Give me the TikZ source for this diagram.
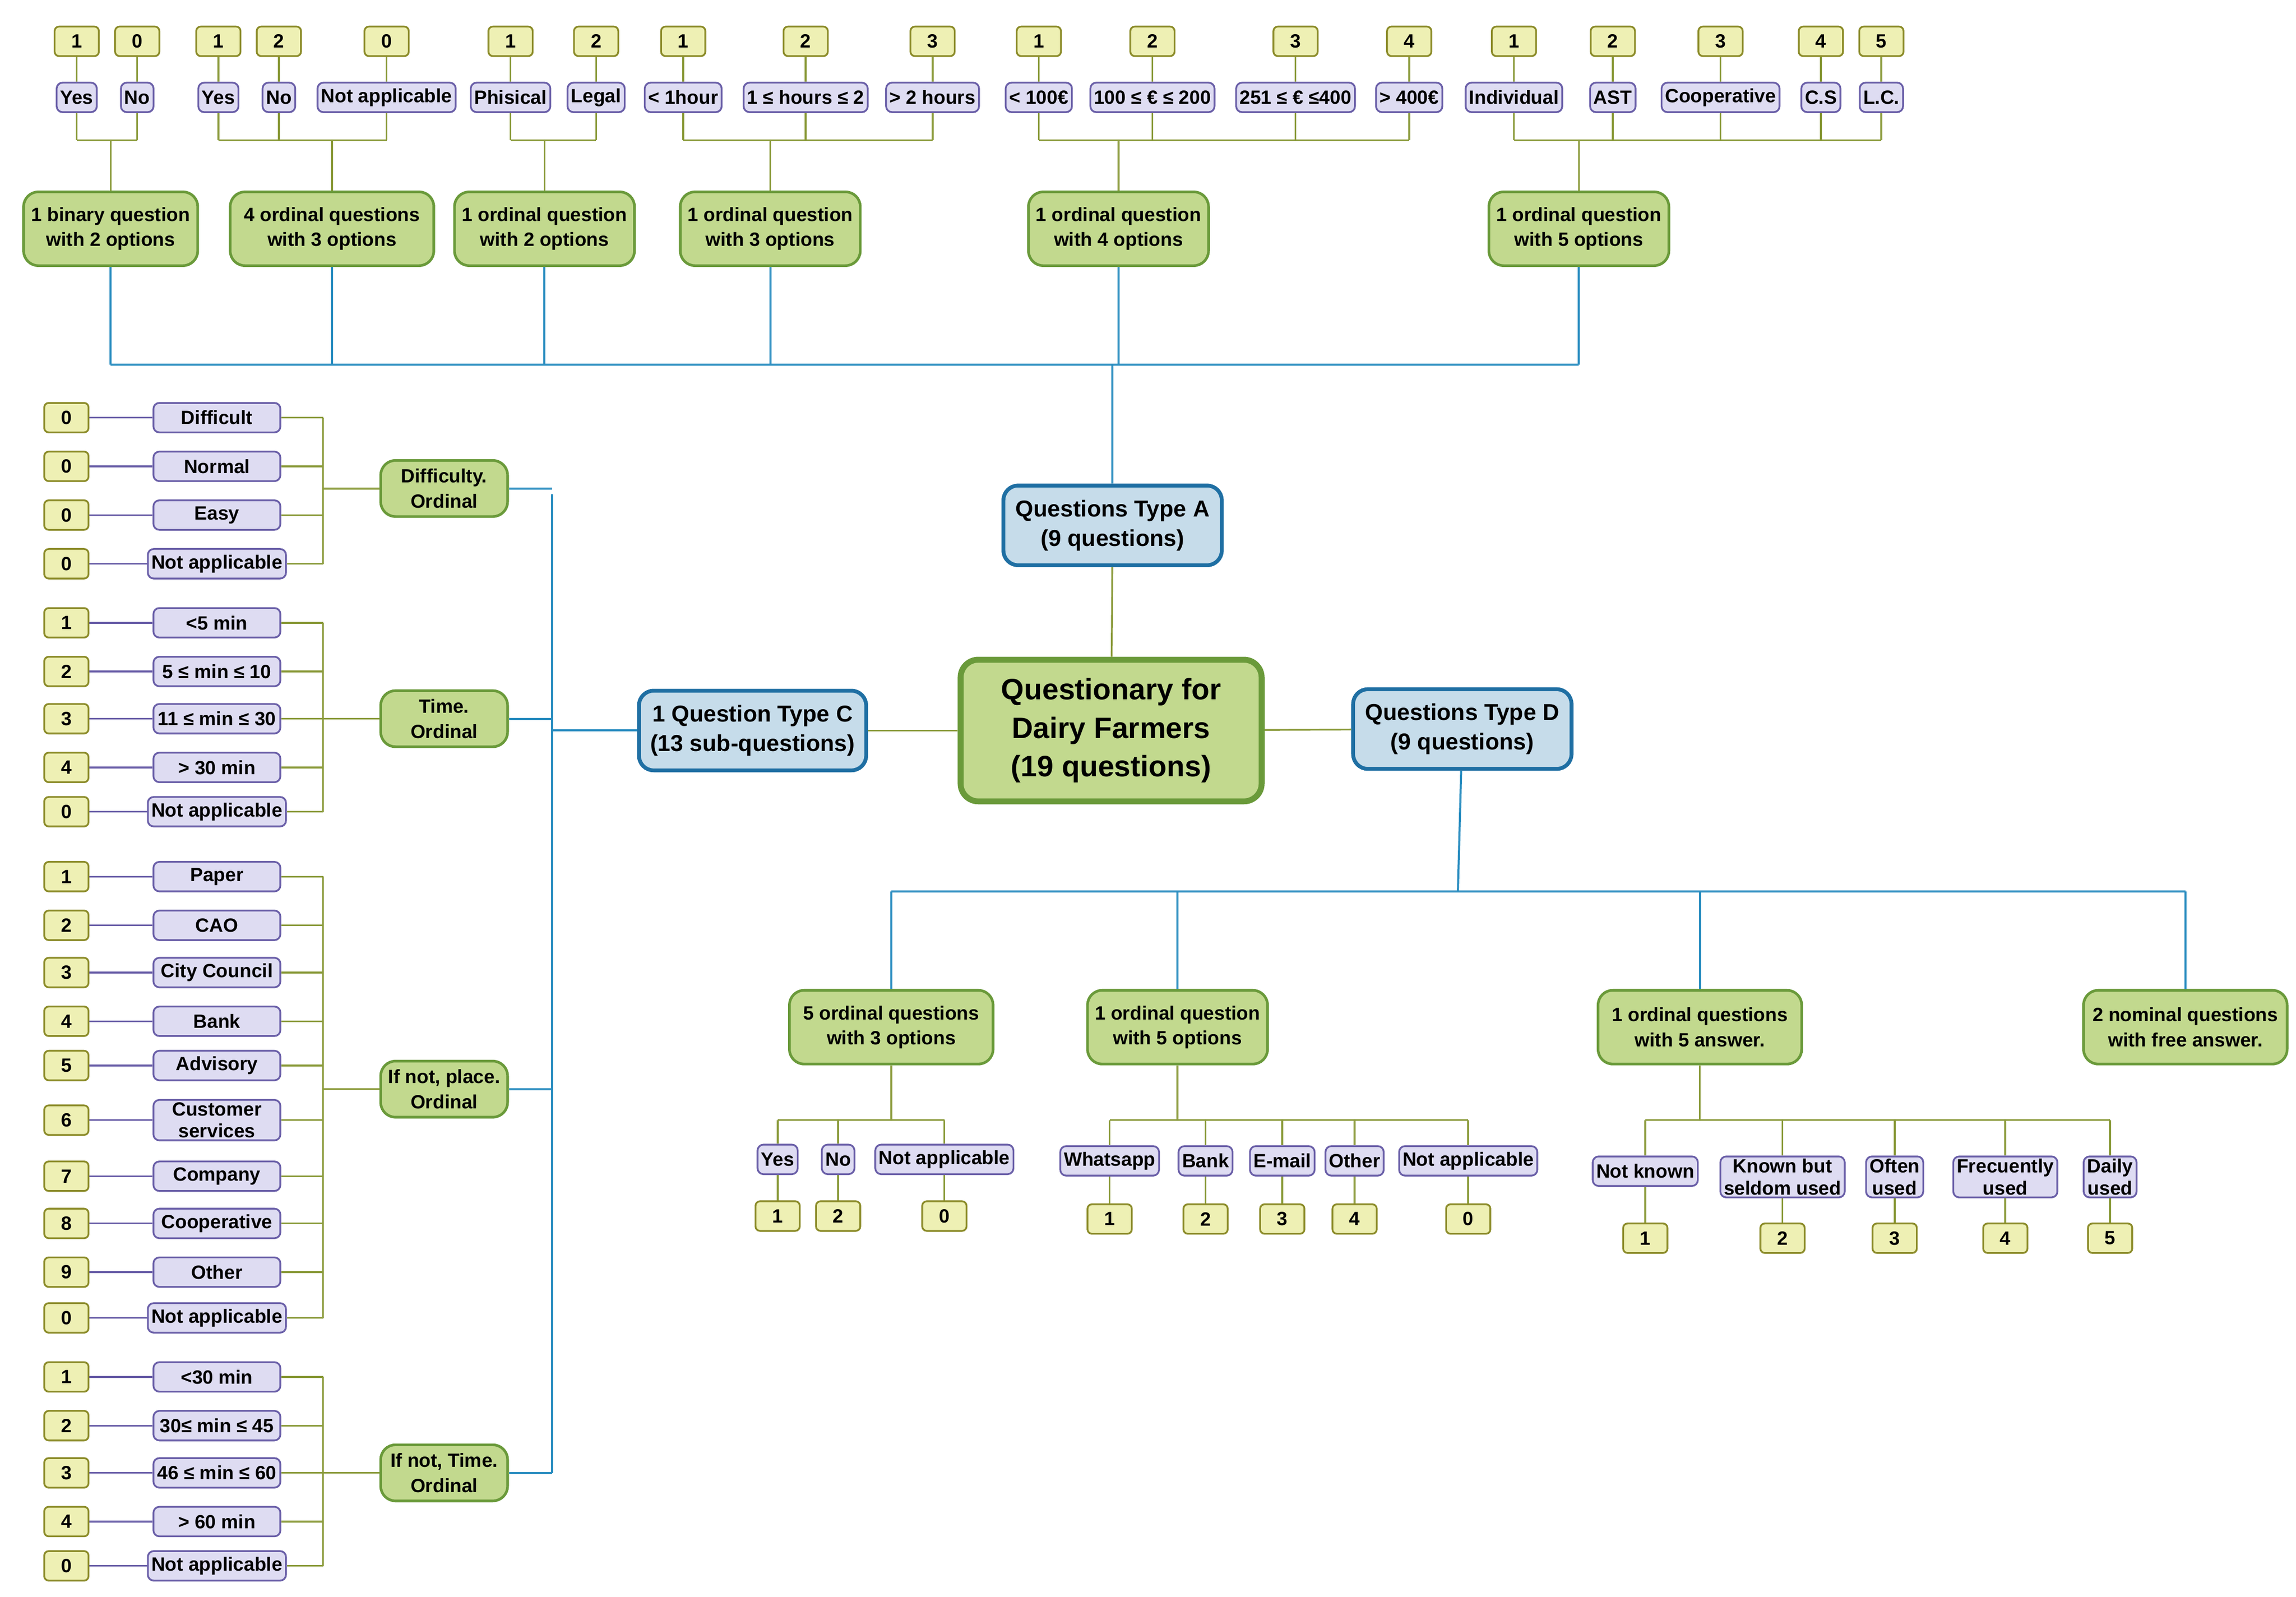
\documentclass[tikz,border=0pt]{standalone}
\usepackage{fontspec}
\setmainfont{Liberation Sans}
\definecolor{numF}{HTML}{EEF0B4}\definecolor{numB}{HTML}{8C8C2A}
\definecolor{optF}{HTML}{DEDCF2}\definecolor{optB}{HTML}{6A5FA8}
\definecolor{grnF}{HTML}{C2D98E}\definecolor{grnB}{HTML}{6A9A3A}
\definecolor{bluF}{HTML}{C6DCEA}\definecolor{bluB}{HTML}{1F6FA3}
\definecolor{bline}{HTML}{2A8DC0}\definecolor{gline}{HTML}{8A9A3A}
\begin{document}
\begin{tikzpicture}[x=0.5pt,y=-0.5pt,font=\bfseries,
 num/.style={draw=numB,fill=numF,rounded corners=1.5pt,line width=0.6pt,minimum width=15pt,minimum height=10pt,inner sep=0pt,font=\fontsize{6.5}{7}\bfseries},
 opt/.style={draw=optB,fill=optF,rounded corners=2pt,line width=0.6pt,minimum height=10pt,inner xsep=1.2pt,inner ysep=0.8pt,align=center,font=\fontsize{6.5}{7.5}\bfseries},
 lopt/.style={opt,minimum width=43pt},
 grp/.style={draw=grnB,fill=grnF,rounded corners=5pt,line width=0.9pt,align=center,inner sep=1pt,font=\fontsize{6.5}{8.5}\bfseries},
 blu/.style={draw=bluB,fill=bluF,rounded corners=5pt,line width=1.3pt,align=center,minimum height=27pt,font=\fontsize{7.8}{10}\bfseries},
 gl/.style={draw=gline,line width=0.6pt},
 pl/.style={draw=optB,line width=0.6pt},
 bl/.style={draw=bline,line width=0.7pt}]
\useasboundingbox (0,0) rectangle (1556,1082);
% main
\node[draw=grnB,fill=grnF,rounded corners=6pt,line width=2pt,align=center,minimum width=102pt,minimum height=48pt,font=\fontsize{10}{13}\bfseries] (main) at (753,495) {Questionary for\\Dairy Farmers\\(19 questions)};
\node[blu,minimum width=74pt] (A) at (754,356) {Questions Type A\\(9 questions)};
\node[blu,minimum width=77pt] (C) at (510,495) {1 Question Type C\\(13 sub-questions)};
\node[blu,minimum width=74pt] (D) at (991,494) {Questions Type D\\(9 questions)};
\draw[gl] (A) -- (main); \draw[gl] (main) -- (C); \draw[gl] (main) -- (D);
% top groups
\coordinate (busL) at (75,247); \coordinate (busR) at (1070,247); \coordinate (busA) at (754,247);
\draw[bl] (busL) -- (busR); \draw[bl] (busA) -- (A);
\foreach \g/\gx/\gw/\gt/\items in {
 1/75/59/{1 binary question\\with 2 options}/{52/Yes/1,93/No/0},
 2/225/69/{4 ordinal questions\\with 3 options}/{148/Yes/1,189/No/2,262/Not applicable/0},
 3/369/61/{1 ordinal question\\with 2 options}/{346/Phisical/1,404/Legal/2},
 4/522/61/{1 ordinal question\\with 3 options}/{463/< 1hour/1,546/1 ≤ hours ≤ 2/2,632/> 2 hours/3},
 5/758/61/{1 ordinal question\\with 4 options}/{704/< 100€/1,781/100 ≤ € ≤ 200/2,878/251 ≤ € ≤400/3,955/> 400€/4},
 6/1070/61/{1 ordinal question\\with 5 options}/{1026/Individual/1,1093/AST/2,1166/Cooperative/3,1234/C.S/4,1275/L.C./5}}{
 \node[grp,minimum width=\gw pt,minimum height=25pt] (g\g) at (\gx,155) {\gt};
 \coordinate (gb\g) at (\gx,247); \draw[bl] (g\g) -- (gb\g);
 \coordinate (gt\g) at (\gx,95); \draw[gl] (gt\g) -- (g\g);
 \foreach \x/\o/\n [count=\k] in \items {
  \node[num] (n\g-\k) at (\x,28) {\n};
  \node[opt] (o\g-\k) at (\x,66) {\o};
  \draw[gl] (n\g-\k) -- (o\g-\k);
  \coordinate (ob\g-\k) at (\x,95); \draw[gl] (o\g-\k) -- (ob\g-\k);
  \ifnum\k>1 \pgfmathtruncatemacro\kp{\k-1}\draw[gl] (ob\g-\kp) -- (ob\g-\k);\fi
 }
}
% Type C
\coordinate (cb) at (374,495); \draw[bl] (C) -- (cb);
\coordinate (cbt) at (374,335); \coordinate (cbb) at (374,998); \draw[bl] (cbt) -- (cbb);
\foreach \g/\gy/\gt/\items in {
 1/331/{Difficulty.\\Ordinal}/{283/Difficult/0,316/Normal/0,349/Easy/0,382/Not applicable/0},
 2/487/{Time.\\Ordinal}/{422/<5 min/1,455/5 ≤  min ≤  10/2,487/11 ≤  min ≤  30/3,520/> 30 min/4,550/Not applicable/0},
 3/738/{If not, place.\\Ordinal}/{594/Paper/1,627/CAO/2,659/City Council/3,692/Bank/4,722/Advisory/5,759/{Customer\\services}/6,797/Company/7,829/Cooperative/8,862/Other/9,893/Not applicable/0},
 4/998/{If not, Time.\\Ordinal}/{933/<30 min/1,966/30≤  min ≤  45/2,998/46 ≤  min ≤  60/3,1031/> 60 min/4,1061/Not applicable/0}}{
 \node[grp,minimum width=43pt,minimum height=19pt] (c\g) at (301,\gy) {\gt};
 \coordinate (cr\g) at (374,\gy); \draw[bl] (c\g) -- (cr\g);
 \coordinate (cl\g) at (219,\gy); \draw[gl] (cl\g) -- (c\g);
 \foreach \y/\o/\n [count=\k] in \items {
  \node[num] (cn\g-\k) at (45,\y) {\n};
  \node[lopt] (co\g-\k) at (147,\y) {\o};
  \draw[pl] (cn\g-\k) -- (co\g-\k);
  \coordinate (cv\g-\k) at (219,\y); \draw[gl] (co\g-\k) -- (cv\g-\k);
  \ifnum\k>1 \pgfmathtruncatemacro\kp{\k-1}\draw[gl] (cv\g-\kp) -- (cv\g-\k);\fi
 }
}
% Type D
\coordinate (db) at (988,604); \draw[bl] (D) -- (db);
\coordinate (dbl) at (604,604); \coordinate (dbr) at (1481,604); \draw[bl] (dbl) -- (dbr);
\foreach \g/\gx/\gw/\gt in {1/604/69/{5 ordinal questions\\with 3 options},2/798/61/{1 ordinal question\\with 5 options},3/1152/69/{1 ordinal questions\\with 5 answer.},4/1481/69/{2 nominal questions\\with free answer.}}{
 \node[grp,minimum width=\gw pt,minimum height=25pt] (d\g) at (\gx,696) {\gt};
 \coordinate (dt\g) at (\gx,604); \draw[bl] (dt\g) -- (d\g);
}
\foreach \g/\gx/\oy/\ny/\items in {
 1/604/785/824/{527/Yes/1,568/No/2,640/Not applicable/0},
 2/798/786/826/{752/Whatsapp/1,817/Bank/2,869/E-mail/3,918/Other/4,995/Not applicable/0},
 3/1152/793/839/{1115/Not known/1,1208/{Known but\\seldom used}/2,1284/{Often\\used}/3,1359/{Frecuently\\used}/4,1430/{Daily\\used}/5}}{
 \coordinate (dm\g) at (\gx,759); \draw[gl] (d\g) -- (dm\g);
 \foreach \x/\o/\n [count=\k] in \items {
  \node[opt,anchor=north] (do\g-\k) at (\x,\oy-10) {\o};
  \node[num] (dn\g-\k) at (\x,\ny) {\n};
  \coordinate (dv\g-\k) at (\x,759);
  \draw[gl] (dv\g-\k) -- (do\g-\k.north);
  \draw[gl] (do\g-\k) -- (dn\g-\k);
  \ifnum\k>1 \pgfmathtruncatemacro\kp{\k-1}\draw[gl] (dv\g-\kp) -- (dv\g-\k);\fi
 }
}
\end{tikzpicture}
\end{document}
